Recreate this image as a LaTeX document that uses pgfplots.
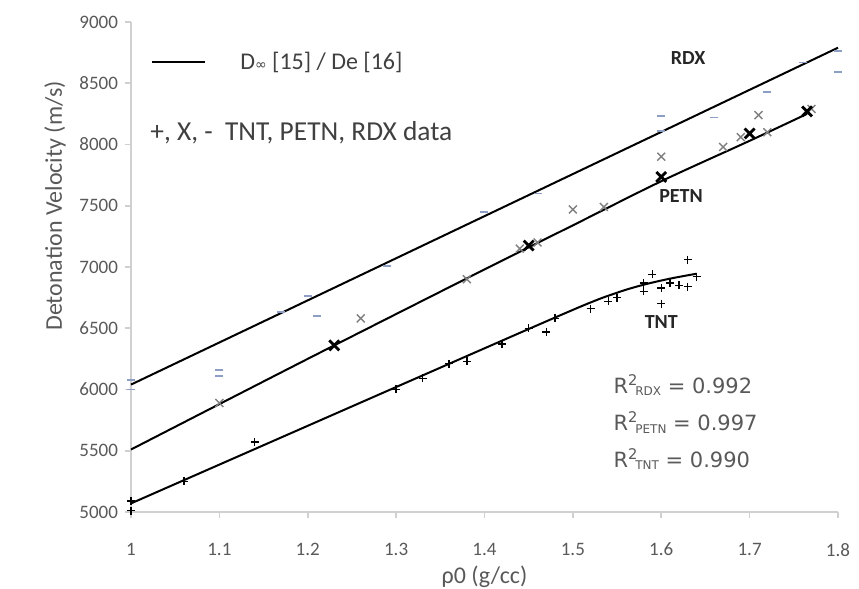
\documentclass[border=0pt]{standalone}
\usepackage{pgfplots}
\pgfplotsset{compat=1.18}
\usepackage{fontspec}
\setmainfont{Carlito}
\newfontfamily\dejavu{DejaVu Sans}
\definecolor{txt}{HTML}{595959}
\definecolor{legtxt}{HTML}{404040}
\definecolor{axgray}{HTML}{D0D0D0}
\definecolor{petn}{HTML}{808080}
\definecolor{rdx}{HTML}{8C9EC4}
\begin{document}
\begin{tikzpicture}
\begin{axis}[
  scale only axis, width=353.5pt, height=245pt,
  xmin=1, xmax=1.8, ymin=5000, ymax=9000,
  xtick={1,1.1,1.2,1.3,1.4,1.5,1.6,1.7,1.8},
  ytick={5000,5500,6000,6500,7000,7500,8000,8500,9000},
  axis x line*=bottom, axis y line*=left,
  axis line style={axgray, line width=0.8pt},
  tick style={axgray, line width=0.8pt},
  tick align=outside, major tick length=3pt,
  /pgf/number format/assume math mode=true,
  /pgf/number format/1000 sep={},
  every tick label/.append style={font=\fontsize{9.5}{11}\selectfont, text=txt},
  xticklabel style={yshift=-9pt},
  xlabel={ρ0 (g/cc)},
  ylabel={Detonation Velocity (m/s)},
  label style={font=\fontsize{12}{14}\selectfont, text=txt},
  xlabel style={at={(axis description cs:0.5,0)}, anchor=center, yshift=-32.5pt, font=\fontsize{12}{14}\selectfont},
  ylabel style={at={(ticklabel cs:0.6)}, xshift=6pt},
  clip=false,
]
% fitted lines
\addplot[black, line width=1pt] coordinates {(1,6040) (1.8,8790)};
\addplot[black, line width=1pt, smooth] coordinates {(1,5510) (1.2,6250) (1.4,6980) (1.5,7340) (1.6,7700) (1.7,8030) (1.765,8250)};
\addplot[black, line width=1pt, smooth] coordinates {(1,5070) (1.3,6020) (1.5,6650) (1.55,6790) (1.58,6855) (1.61,6905) (1.64,6945)};
% RDX data
\addplot[only marks, mark=-, mark size=2pt, rdx, mark options={line width=0.9pt}] coordinates {
(1,6000) (1,6080) (1.1,6110) (1.1,6160) (1.17,6630) (1.2,6760) (1.21,6600) (1.29,7010) (1.4,7450) (1.46,7600) (1.6,8230) (1.6,8110) (1.66,8220) (1.72,8430) (1.76,8670) (1.8,8760) (1.8,8590)};
% PETN data
\addplot[only marks, mark=x, mark size=2.8pt, petn, mark options={line width=0.7pt}] coordinates {
(1.1,5890) (1.26,6580) (1.38,6900) (1.44,7150) (1.46,7200) (1.5,7470) (1.535,7490) (1.6,7900) (1.67,7980) (1.69,8060) (1.71,8240) (1.72,8100) (1.77,8290)};
\addplot[only marks, mark=x, mark size=3.5pt, black, mark options={line width=1.4pt}] coordinates {
(1.23,6360) (1.45,7175) (1.6,7735) (1.7,8090) (1.765,8270)};
% TNT data
\addplot[only marks, mark=+, mark size=2pt, black, mark options={line width=0.7pt}] coordinates {
(1,5010) (1,5090) (1.06,5250) (1.14,5570) (1.3,6000) (1.33,6090) (1.36,6210) (1.38,6230) (1.42,6370) (1.45,6500) (1.47,6470) (1.48,6580) (1.52,6660) (1.54,6720) (1.55,6750) (1.58,6800) (1.58,6870) (1.59,6940) (1.6,6700) (1.6,6830) (1.61,6870) (1.62,6850) (1.63,7060) (1.63,6840) (1.64,6920)};
% legend
\draw[black, line width=1pt] (axis description cs:0.0297,0.918) -- (axis description cs:0.1047,0.918);
\node[anchor=west, text=legtxt, font=\fontsize{12}{14}\selectfont, inner sep=0pt] at (axis description cs:0.154,0.918) {D{\dejavu\fontsize{7}{7}\selectfont ∞} [15] / De [16]};
\node[anchor=west, text=legtxt, font=\fontsize{13.7}{16}\selectfont, inner sep=0pt] at (axis description cs:0.0269,0.773) {+, X, -\ \ TNT, PETN, RDX data};
% series labels
\node[font=\bfseries\fontsize{10}{12}\selectfont, text=black!85] at (axis description cs:0.788,0.927) {RDX};
\node[font=\bfseries\fontsize{10}{12}\selectfont, text=black!85] at (axis description cs:0.778,0.645) {PETN};
\node[font=\bfseries\fontsize{10}{12}\selectfont, text=black!85] at (axis description cs:0.75,0.388) {TNT};
% R^2
\node[anchor=west, text=txt, font=\dejavu\fontsize{10.5}{13}\selectfont, inner sep=0pt] at (axis description cs:0.682,0.259) {R\textsuperscript{2}\hspace{-0.15em}{\fontsize{6}{6}\selectfont\raisebox{-0.4ex}{RDX}} = 0.992};
\node[anchor=west, text=txt, font=\dejavu\fontsize{10.5}{13}\selectfont, inner sep=0pt] at (axis description cs:0.682,0.182) {R\textsuperscript{2}\hspace{-0.15em}{\fontsize{6}{6}\selectfont\raisebox{-0.4ex}{PETN}} = 0.997};
\node[anchor=west, text=txt, font=\dejavu\fontsize{10.5}{13}\selectfont, inner sep=0pt] at (axis description cs:0.682,0.108) {R\textsuperscript{2}\hspace{-0.15em}{\fontsize{6}{6}\selectfont\raisebox{-0.4ex}{TNT}} = 0.990};
\end{axis}
\pgfresetboundingbox
\path ([xshift=-65.5pt,yshift=-38.5pt]current axis.south west) rectangle ([xshift=10.5pt,yshift=11pt]current axis.north east);
\end{tikzpicture}
\end{document}
